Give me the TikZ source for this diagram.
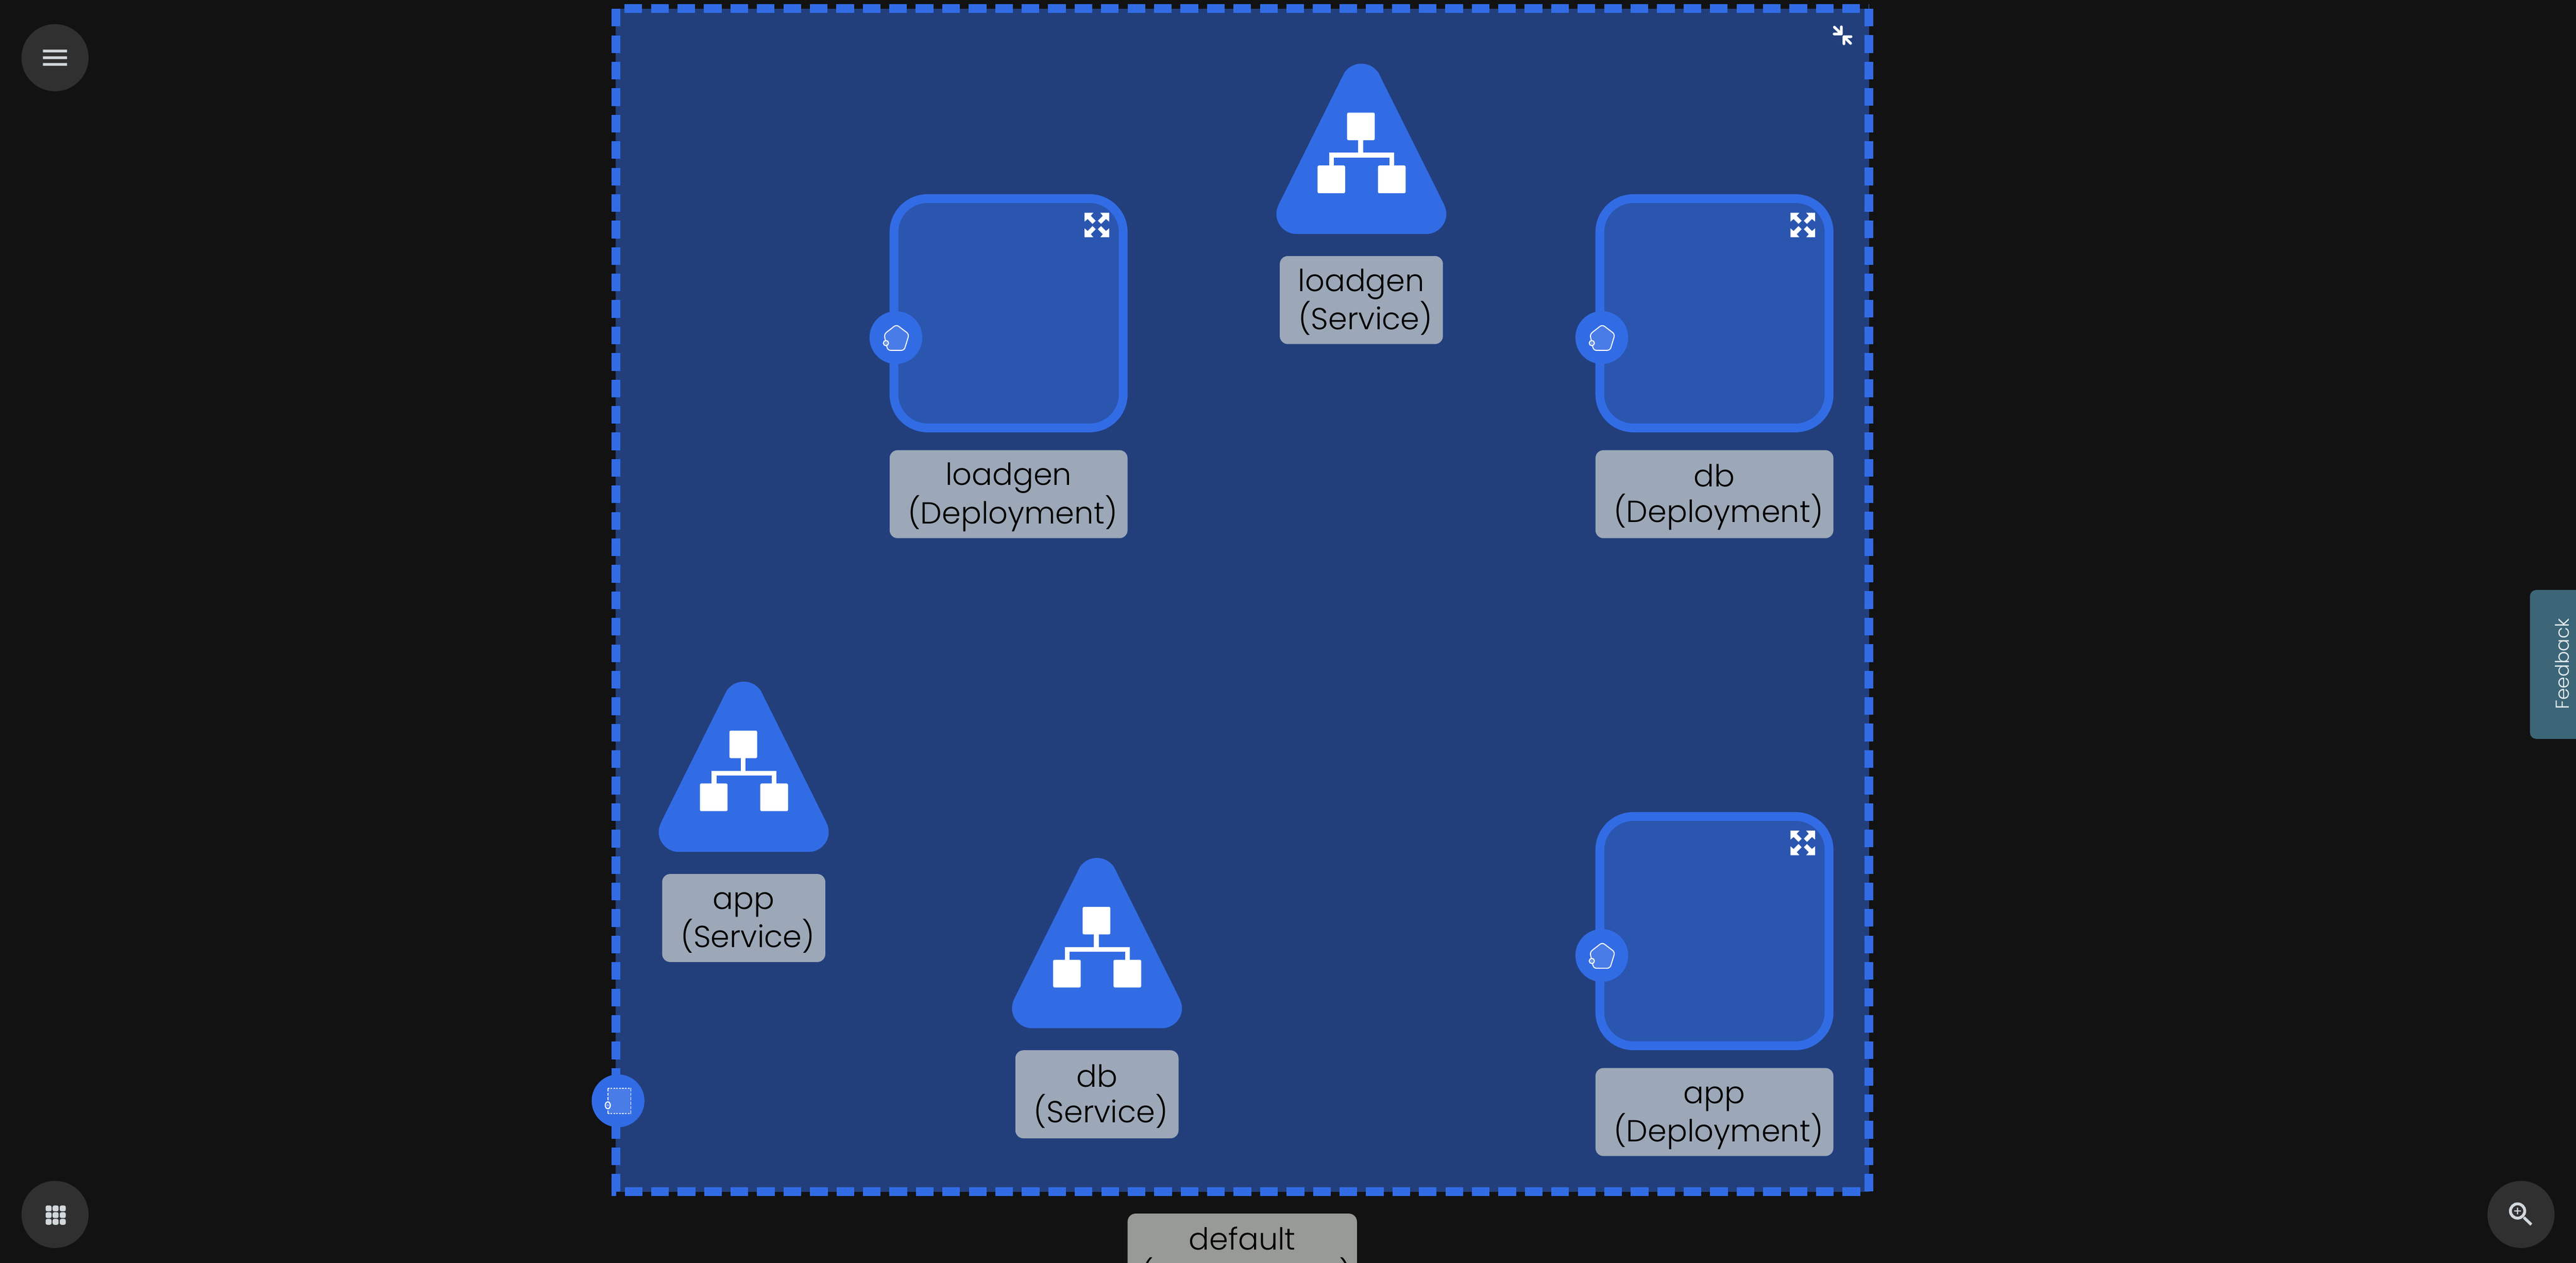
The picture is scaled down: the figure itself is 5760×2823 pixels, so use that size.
\documentclass[tikz,border=0pt]{standalone}
\usepackage{fontspec}
\setmainfont{Poppins Light}
\usetikzlibrary{calc}
\definecolor{bgc}{HTML}{121212}
\definecolor{kblue}{HTML}{326CE5}
\definecolor{nsfill}{HTML}{223F7C}
\definecolor{depfill}{HTML}{2A56B0}
\definecolor{lab}{HTML}{9CA8B8}
\definecolor{nslab}{HTML}{989A96}
\definecolor{btn}{HTML}{303030}
\definecolor{ico}{HTML}{D2D8DB}
\definecolor{pent}{HTML}{4A7CE8}
\definecolor{fb}{HTML}{3C6678}
\tikzset{
  depbox/.style={draw=kblue,fill=depfill,line width=4.9pt,rounded corners=18.75pt,minimum size=128.15pt,inner sep=0pt},
  labelbox/.style={fill=lab,text=black,rounded corners=4.5pt,inner sep=0pt,align=center,font=\fontsize{17}{20}\selectfont,minimum height=49.2pt},
  depl/.style={labelbox,minimum width=133pt},
  svcl/.style={labelbox,minimum width=91.2pt},
  portc/.style={circle,fill=kblue,minimum size=29.5pt,inner sep=0pt},
  roundbtn/.style={circle,fill=btn,minimum size=37.5pt,inner sep=0pt},
}
\newcommand{\twolines}[2]{\lineskiplimit=-30pt\relax\rule{0pt}{18pt}#1\\\hspace*{4.5pt}#2\rule[-6.4pt]{0pt}{6.4pt}}
\newcommand{\expandicon}[1]{%
  \begin{scope}[shift={(#1)}]
  \foreach \sx/\sy in {1/1,-1/1,1/-1,-1/-1}{
    \fill[white,xscale=\sx,yscale=\sy] (-27.5,-27.5) -- (-7.5,-27.5) -- (-13.5,-20.5) -- (-2.5,-9.5) -- (-9.5,-2.5) -- (-20.5,-13.5) -- (-27.5,-7.5) -- cycle;
  }
  \end{scope}}
\newcommand{\podport}[2]{%
  \node[portc] (#2) at (#1) {};
  \begin{scope}[shift={(#1)}]
  \draw[white,fill=pent,line width=.55pt,rounded corners=1.6pt] (1,-29) -- (29.4,-7.4) -- (18.4,28.6) -- (-18.3,28.6) -- (-26.6,-7.4) -- cycle;
  \draw[white,fill=kblue,line width=.65pt] (-22.3,12.3) circle[radius=5.6];
  \fill[pent!70!white] (-22.3,12.3) circle[radius=2.6];
  \end{scope}}
\newcommand{\svcicon}[3]{%
  \begin{scope}[shift={(#1)}]
  \fill[kblue] (-38,20) .. controls (-28,6) and (-14,0) .. (0,0) .. controls (14,0) and (28,6) .. (38,20) -- (184,313) .. controls (188,322) and (190,328) .. (190,336) .. controls (190,362) and (168,380.6) .. (146,380.6) -- (-146,380.6) .. controls (-168,380.6) and (-190,362) .. (-190,336) .. controls (-190,328) and (-188,322) .. (-184,313) -- cycle;
  \fill[white,rounded corners=.8pt] (-32,109.4) rectangle (30,171);
  \fill[white,rounded corners=.8pt] (-98,227.6) rectangle (-36.3,289.6);
  \fill[white,rounded corners=.8pt] (37,227.6) rectangle (99,289.6);
  \fill[white] (-7,171) rectangle (4,199);
  \fill[white] (-72,199) rectangle (73.3,209.6);
  \fill[white] (-72,199) rectangle (-61,228);
  \fill[white] (62.7,199) rectangle (73.3,228);
  \end{scope}
  \node[svcl] (#2) at ($(#1)+(0,528.4)$) {#3};}
\begin{document}
\begin{tikzpicture}[x=0.25pt,y=-0.25pt]
\useasboundingbox (0,0) rectangle (5760,2823);
\clip (0,0) rectangle (5760,2823);
\fill[bgc] (0,0) rectangle (5760,2823);
% namespace
\fill[nsfill] (1377,19.5) rectangle (4179,2664);
\draw[kblue,line width=4.925pt,dash pattern=on 9.875pt off 4.925pt] (4179,19.5) -- (4179,2664) -- (1377,2664) -- (1377,19.5) -- cycle;
% collapse icon
\draw[white,line width=1.5pt,line cap=round,line join=round] (4101.7,60.7) -- (4117.3,76) (4117.3,60) -- (4117.3,76) -- (4101,76);
\draw[white,line width=1.5pt,line cap=round,line join=round] (4138,97) -- (4123,82) (4139,82) -- (4123,82) -- (4123,98);
% namespace port
\node[portc] (nsport) at (1382,2461) {};
\fill[pent] (1359,2433) rectangle (1410.7,2489.3);
\draw[white,line width=.5pt,dash pattern=on .9pt off .7pt] (1359,2433) -- (1410.7,2433);
\draw[white,line width=.5pt,dash pattern=on .9pt off .7pt] (1359,2489.3) -- (1410.7,2489.3);
\draw[white,line width=.5pt,dash pattern=on 1.6pt off .9pt] (1359,2433) -- (1359,2489.3);
\draw[white,line width=.5pt,dash pattern=on 1.6pt off .9pt] (1410.7,2433) -- (1410.7,2489.3);
\draw[white,fill=kblue,line width=.65pt] (1359,2471) ellipse[x radius=5.6,y radius=7.6];
\fill[pent!70!white] (1359,2471) circle[radius=3];
% deployments
\node[depbox] (dl) at (2255.2,700.3) {};
\node[depl] (dll) at (2255.2,1104.8) {\twolines{loadgen}{(Deployment)}};
\expandicon{2452.5,503}
\podport{2003.3,754.7}{dlp}
\node[depbox] (dd) at (3833.5,700.3) {};
\node[depl] (ddl) at (3833.5,1104.8) {\twolines{db}{(Deployment)}};
\expandicon{4031,503}
\podport{3581.6,754.7}{ddp}
\node[depbox] (da) at (3833.5,2081.6) {};
\node[depl] (dal) at (3833.5,2486) {\twolines{app}{(Deployment)}};
\expandicon{4031,1884.5}
\podport{3581.6,2136}{dap}
% services
\svcicon{3044,142.4}{sl}{\twolines{loadgen}{(Service)}}
\svcicon{1663,1523.9}{sa}{\twolines{app}{(Service)}}
\svcicon{2452.8,1918}{sd}{\twolines{db}{(Service)}}
% namespace label
\node[labelbox,fill=nslab,minimum width=128.2pt] (nsl) at (2777.7,2811.5) {\twolines{default}{(Namespace)}};
% feedback
\fill[fb,rounded corners=3.5pt] (5657,1319) rectangle (5800,1651.7);
\node[rotate=90,anchor=base,text={rgb,255:red,232;green,238;blue,240},font=\fontsize{10.5}{12}\selectfont,inner sep=0pt] (fbt) at (5744,1484) {Feedback};
% buttons
\node[roundbtn] (menu) at (123,129) {};
\fill[ico] (96,111) rectangle (150,117) (96,126) rectangle (150,132) (96,141) rectangle (150,147);
\node[roundbtn] (grid) at (123,2715) {};
\foreach \xx in {102,117.7,133.7}{\foreach \yy in {2695,2710,2725}{
  \fill[ico,rounded corners=.9pt] (\xx,\yy) rectangle ++(13.3,13);
}}
\node[roundbtn] (zoomb) at (5637,2715) {};
\draw[ico,line width=1.6pt] (5629.3,2707.3) circle[radius=16];
\draw[ico,line width=1.6pt] (5643.3,2721.7) -- (5660,2737.7);
\fill[ico] (5621.8,2706) rectangle (5636.8,2708.6) (5628,2699.8) rectangle (5630.6,2714.8);
\end{tikzpicture}
\end{document}
